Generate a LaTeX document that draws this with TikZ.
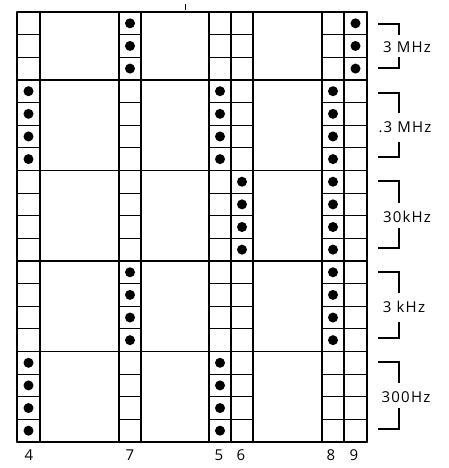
\documentclass[tikz,border=0pt]{standalone}
\usepackage{fontspec}
\setmainfont{Open Sans}[LetterSpace=8]
\begin{document}
\begin{tikzpicture}[x=1pt,y=-1pt,
  frame/.style={line width=1.5pt, line cap=round},
  cell/.style={line width=1.1pt},
  dotmark/.style={fill=black, draw=none},
  brk/.style={line width=1.1pt},
  lbl/.style={font=\fontsize{15}{16}\selectfont, inner sep=0pt},
  num/.style={font=\fontsize{15}{16}\selectfont, inner sep=0pt}]
\useasboundingbox (0,0) rectangle (449,468);
\def\h{22.6316}
% vertical lines
\foreach \x in {17,40,119,141,209,231,253,322,344,367}
  \draw[frame] (\x,12) -- (\x,442);
% band lines
\foreach \b in {0,3,7,11,15,19}
  \draw[frame] (17,{12+\b*\h}) -- (367,{12+\b*\h});
% cell lines
\foreach \i in {1,2,4,5,6,8,9,10,12,13,14,16,17,18}{
  \draw[cell] (17,{12+\i*\h}) -- (40,{12+\i*\h});
  \draw[cell] (119,{12+\i*\h}) -- (141,{12+\i*\h});
  \draw[cell] (209,{12+\i*\h}) -- (253,{12+\i*\h});
  \draw[cell] (322,{12+\i*\h}) -- (367,{12+\i*\h});
}
% dots
\foreach \i in {3,4,5,6,15,16,17,18} \fill[dotmark] (28.5,{12+(\i+0.5)*\h}) circle (5);
\foreach \i in {0,1,2,11,12,13,14} \fill[dotmark] (130,{12+(\i+0.5)*\h}) circle (5);
\foreach \i in {3,4,5,6,15,16,17,18} \fill[dotmark] (220,{12+(\i+0.5)*\h}) circle (5);
\foreach \i in {7,8,9,10} \fill[dotmark] (242,{12+(\i+0.5)*\h}) circle (5);
\foreach \i in {3,4,5,6,7,8,9,10,11,12,13,14} \fill[dotmark] (333,{12+(\i+0.5)*\h}) circle (5);
\foreach \i in {0,1,2} \fill[dotmark] (355.5,{12+(\i+0.5)*\h}) circle (5);
% top tick
\draw[line width=1pt] (185,4) -- (185,10);
% column numbers
\node[num] (n4) at (29,455) {4};
\node[num] (n7) at (130,455) {7};
\node[num] (n5) at (219,455) {5};
\node[num] (n6) at (241,455) {6};
\node[num] (n8) at (331,455) {8};
\node[num] (n9) at (354,455) {9};
% brackets and labels
\draw[brk] (378,24) -| (399,35);
\draw[brk] (399,57) |- (378,68);
\node[lbl] (l1) at (407,47) {3 MHz};
\draw[brk] (378,93) -| (399,113);
\draw[brk] (399,142) |- (378,157);
\node[lbl] (l2) at (405,127) {.3 MHz};
\draw[brk] (378,181) -| (399,203);
\draw[brk] (399,228) |- (378,248);
\node[lbl] (l3) at (407,217) {30kHz};
\draw[brk] (378,272) -| (399,293);
\draw[brk] (399,322) |- (378,338);
\node[lbl] (l4) at (404,307) {3 kHz};
\draw[brk] (378,362) -| (399,383);
\draw[brk] (399,408) |- (378,429);
\node[lbl] (l5) at (406,397) {300Hz};
\end{tikzpicture}
\end{document}
